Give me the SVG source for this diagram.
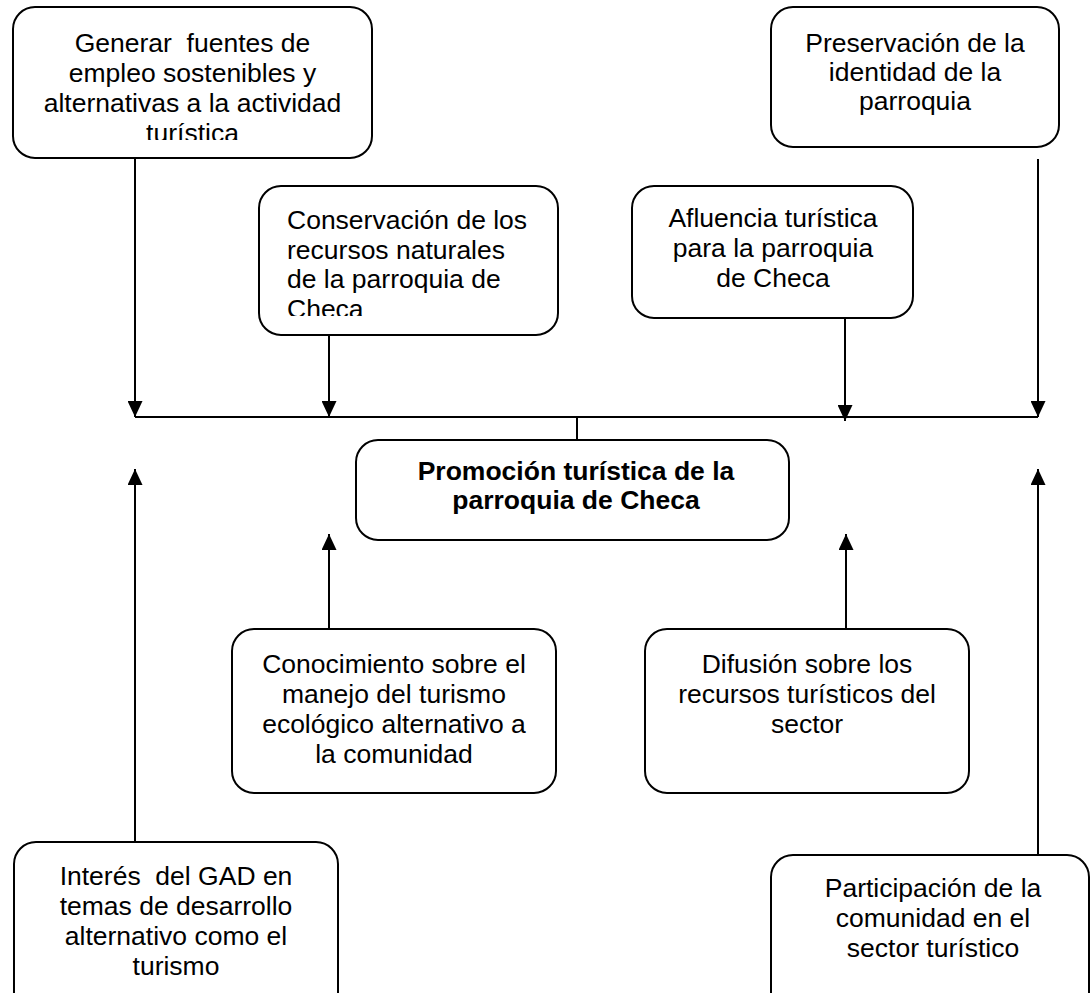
<svg xmlns="http://www.w3.org/2000/svg" width="1090" height="993" viewBox="0 0 1090 993">
<style>
.box{fill:#fff;stroke:#000;stroke-width:2}
.t{font-family:"Liberation Sans",Arial,sans-serif;font-size:26.5px;fill:#000;text-anchor:middle;white-space:pre}
.l{text-anchor:start}
.b{font-weight:bold}
.c{fill:none;stroke:#000;stroke-width:2}
</style>
<defs>
<marker id="ah" markerUnits="userSpaceOnUse" markerWidth="16" markerHeight="15" refX="16" refY="7.5" orient="auto">
<path d="M0,0 L16,7.5 L0,15 z" fill="#000"/>
</marker>
<clipPath id="clip1"><rect x="13" y="7" width="359" height="133"/></clipPath>
<clipPath id="clip3"><rect x="259" y="186" width="299" height="130"/></clipPath>
</defs>
<rect width="1090" height="993" fill="#fff"/>
<g id="connectors">
<line class="c" x1="135" y1="417" x2="1038" y2="417"/>
<line class="c" x1="135" y1="158" x2="135" y2="417" marker-end="url(#ah)"/>
<line class="c" x1="329" y1="335" x2="329" y2="417" marker-end="url(#ah)"/>
<line class="c" x1="845" y1="318" x2="845" y2="421" marker-end="url(#ah)"/>
<line class="c" x1="1038" y1="159" x2="1038" y2="417" marker-end="url(#ah)"/>
<line class="c" x1="577" y1="417" x2="577" y2="440"/>
<line class="c" x1="135" y1="842" x2="135" y2="469" marker-end="url(#ah)"/>
<line class="c" x1="329" y1="629" x2="329" y2="534" marker-end="url(#ah)"/>
<line class="c" x1="846" y1="629" x2="846" y2="534" marker-end="url(#ah)"/>
<line class="c" x1="1038" y1="855" x2="1038" y2="469" marker-end="url(#ah)"/>
</g>
<g id="n1">
<rect class="box" x="13" y="7" width="359" height="151" rx="22"/>
<g clip-path="url(#clip1)">
<text class="t" x="192.5" y="52" xml:space="preserve">Generar  fuentes de</text>
<text class="t" x="192.5" y="82">empleo sostenibles y</text>
<text class="t" x="192.5" y="112">alternativas a la actividad</text>
<text class="t" x="192.5" y="142">turística</text>
</g>
</g>
<g id="n2">
<rect class="box" x="771" y="7" width="288" height="140" rx="22"/>
<text class="t" x="915" y="52">Preservación de la</text>
<text class="t" x="915" y="81">identidad de la</text>
<text class="t" x="915" y="110">parroquia</text>
</g>
<g id="n3">
<rect class="box" x="259" y="186" width="299" height="149" rx="22"/>
<g clip-path="url(#clip3)">
<text class="t l" x="287" y="229">Conservación de los</text>
<text class="t l" x="287" y="259">recursos naturales</text>
<text class="t l" x="287" y="288">de la parroquia de</text>
<text class="t l" x="287" y="318">Checa</text>
</g>
</g>
<g id="n4">
<rect class="box" x="632" y="186" width="281" height="132" rx="22"/>
<text class="t" x="773" y="227">Afluencia turística</text>
<text class="t" x="773" y="257">para la parroquia</text>
<text class="t" x="773" y="287">de Checa</text>
</g>
<g id="n5">
<rect class="box" x="356" y="440" width="433" height="100" rx="22"/>
<text class="t b" x="576" y="480">Promoción turística de la</text>
<text class="t b" x="576" y="509">parroquia de Checa</text>
</g>
<g id="n6">
<rect class="box" x="232" y="629" width="324" height="164" rx="22"/>
<text class="t" x="394" y="673">Conocimiento sobre el</text>
<text class="t" x="394" y="703">manejo del turismo</text>
<text class="t" x="394" y="733">ecológico alternativo a</text>
<text class="t" x="394" y="763">la comunidad</text>
</g>
<g id="n7">
<rect class="box" x="645" y="629" width="324" height="164" rx="22"/>
<text class="t" x="807" y="673">Difusión sobre los</text>
<text class="t" x="807" y="703">recursos turísticos del</text>
<text class="t" x="807" y="733">sector</text>
</g>
<g id="n8">
<rect class="box" x="14" y="842" width="324" height="180" rx="22"/>
<text class="t" x="176" y="885" xml:space="preserve">Interés  del GAD en</text>
<text class="t" x="176" y="915">temas de desarrollo</text>
<text class="t" x="176" y="945">alternativo como el</text>
<text class="t" x="176" y="975">turismo</text>
</g>
<g id="n9">
<rect class="box" x="771" y="855" width="318" height="165" rx="22"/>
<text class="t" x="933" y="897">Participación de la</text>
<text class="t" x="933" y="927">comunidad en el</text>
<text class="t" x="933" y="957">sector turístico</text>
</g>
</svg>
